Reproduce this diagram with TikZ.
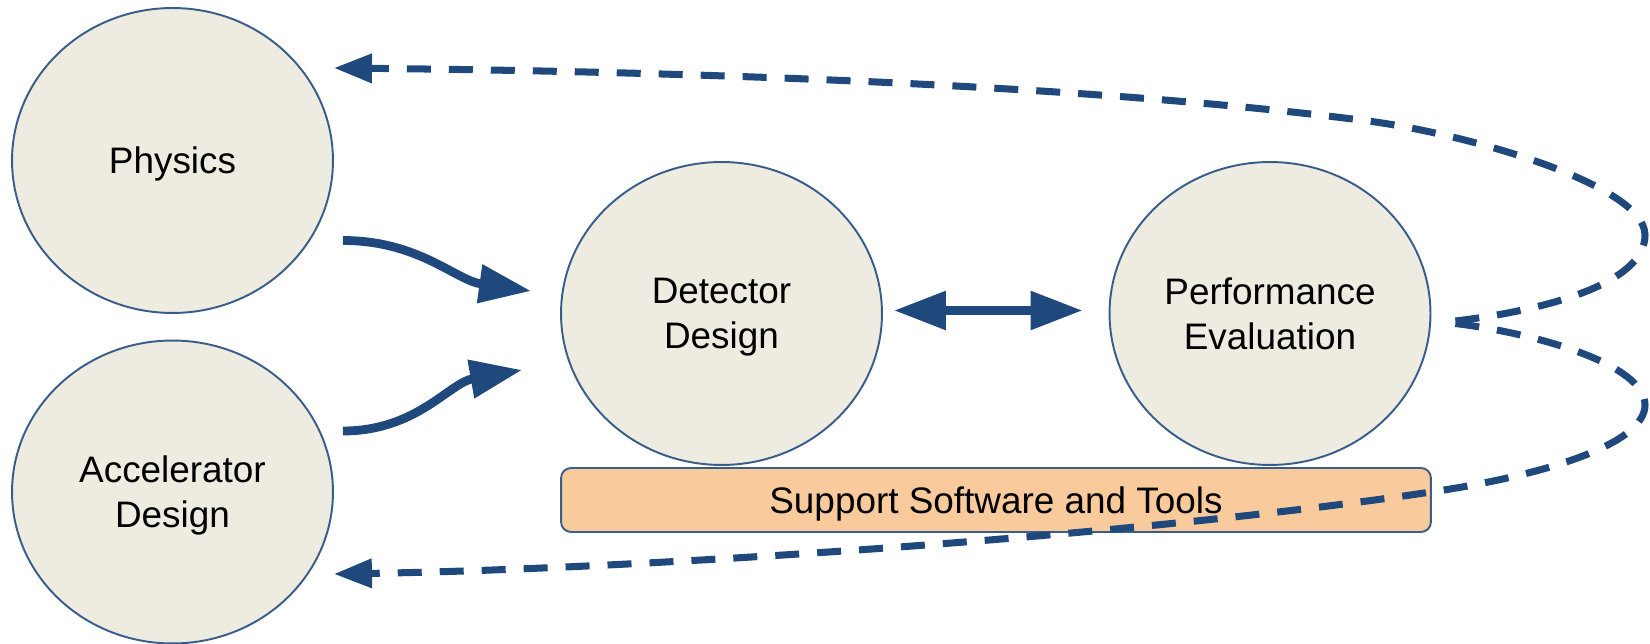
\documentclass[tikz,border=0pt]{standalone}
\usepackage{fontspec}
\setmainfont{Liberation Sans}
\usepackage{tikz}
\usetikzlibrary{arrows.meta,shapes.geometric,positioning}
\definecolor{arrowblue}{RGB}{31,73,125}
\definecolor{rimblue}{RGB}{56,93,138}
\definecolor{bubblefill}{RGB}{238,236,225}
\definecolor{toolfill}{RGB}{249,203,156}
\tikzset{
  bubble/.style={ellipse,draw=rimblue,line width=1.1pt,fill=bubblefill,inner sep=0pt,text depth=0pt,
    minimum width=6.42cm,minimum height=6.06cm,align=center,font=\fontsize{21}{25.6}\selectfont},
  toolbar/.style={rectangle,rounded corners=0.2cm,draw=rimblue,line width=1.1pt,fill=toolfill,text depth=0pt,
    minimum width=17.4cm,minimum height=1.28cm,font=\fontsize{21}{25.6}\selectfont},
  flow/.style={arrowblue,line width=5pt,-{Triangle[length=1.04cm,width=0.74cm]}},
  loopback/.style={arrowblue,line width=4pt,dash pattern=on 0.48cm off 0.36cm,
    -{Triangle[length=0.76cm,width=0.56cm]}}
}

\begin{document}
\begin{tikzpicture}[x=0.02cm,y=-0.02cm]
\useasboundingbox (0,0) rectangle (1650,644);
\node[bubble,minimum height=6.1cm] (phys) at (172.5,160.5) {Physics};
\node[bubble] (acc) at (172.5,492) {Accelerator\\Design};
\node[bubble] (det) at (721.5,313.5) {Detector\\Design};
\node[bubble] (perf) at (1270,313.5) {Performance\\Evaluation};
\node[toolbar] (tools) at (996,500) {Support Software and Tools};
\path[flow]
([shift={(9,80)}]phys.east) edge[out=0,in=172] ([shift={(-29,-22.5)}]det.west)
([shift={(9,-61)}]acc.east) edge[out=0,in=190] ([shift={(-38,56.5)}]det.west);
\draw[flow,{Triangle[length=1.04cm,width=0.74cm]}-{Triangle[length=1.04cm,width=0.74cm]}]
([shift={(11,-3)}]det.east) -- ([shift={(-26,-3)}]perf.west);
% feedback loops
\draw[loopback] ([shift={(24,7.5)}]perf.east) .. controls (1540,311) and (1645,285) .. (1645,235)
  .. controls (1645,185) and (1468,134) .. (1368,121)
  .. controls (1068,82) and (633,71) .. ([shift={(0,-92.5)}]phys.east);
\draw[loopback] ([shift={(24,10)}]perf.east) .. controls (1540,334) and (1645,365) .. (1645,405)
  .. controls (1645,445) and (1540,476) .. (1431,492)
  .. controls (1131,537) and (633,569) .. ([shift={(0,82)}]acc.east);
\end{tikzpicture}
\end{document}
